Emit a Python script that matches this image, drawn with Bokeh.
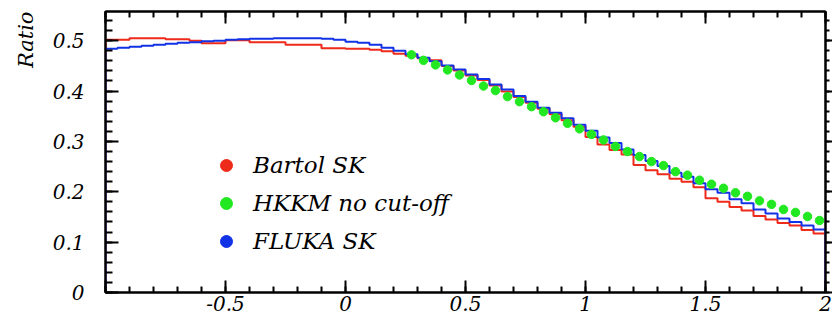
import numpy as np
from bokeh.plotting import figure
from bokeh.models import (ColumnDataSource, FixedTicker, LinearAxis, Range1d,
                          Legend, LegendItem, Title)
from bokeh.embed import file_html
from bokeh.resources import INLINE

# ---- histogram binning (60 bins of 0.05 from -1 to 2) ----
BIN_WIDTH = 0.05
X_LO, X_HI = -1.0, 2.0

# Bartol SK ratio per bin
bartol_sk = [
    0.502, 0.502, 0.505, 0.505, 0.505, 0.503, 0.503, 0.500, 0.495, 0.495,
    0.501, 0.501, 0.497, 0.497, 0.497, 0.492, 0.492, 0.492, 0.485, 0.485,
    0.484, 0.484, 0.482, 0.479, 0.474, 0.470, 0.465, 0.461, 0.450, 0.441,
    0.431, 0.422, 0.411, 0.399, 0.388, 0.377, 0.365, 0.354, 0.342, 0.329,
    0.309, 0.294, 0.283, 0.274, 0.253, 0.243, 0.235, 0.226, 0.220, 0.209,
    0.187, 0.180, 0.170, 0.163, 0.152, 0.145, 0.138, 0.133, 0.124, 0.117,
]

# FLUKA SK ratio per bin
fluka_sk = [
    0.484, 0.486, 0.488, 0.490, 0.492, 0.494, 0.496, 0.497, 0.499, 0.500,
    0.502, 0.503, 0.504, 0.504, 0.505, 0.505, 0.505, 0.505, 0.504, 0.502,
    0.498, 0.496, 0.492, 0.486, 0.480, 0.473, 0.466, 0.459, 0.451, 0.443,
    0.433, 0.424, 0.413, 0.403, 0.390, 0.379, 0.367, 0.357, 0.346, 0.333,
    0.321, 0.308, 0.297, 0.284, 0.273, 0.261, 0.251, 0.238, 0.230, 0.217,
    0.205, 0.198, 0.185, 0.177, 0.165, 0.157, 0.147, 0.140, 0.133, 0.125,
]

# HKKM (no geomagnetic cut-off) points at bin centres from 0.275 upwards
hkkm_first_center = 0.275
hkkm_no_cutoff = [
    0.472, 0.461, 0.452, 0.442, 0.432, 0.421, 0.410, 0.401, 0.389, 0.379,
    0.369, 0.359, 0.347, 0.336, 0.325, 0.314, 0.303, 0.290, 0.280, 0.270,
    0.260, 0.252, 0.240, 0.233, 0.223, 0.215, 0.207, 0.198, 0.191, 0.182,
    0.175, 0.165, 0.159, 0.151, 0.143,
]

x_ticks = [-1.0, -0.5, 0.0, 0.5, 1.0, 1.5, 2.0]
x_tick_labels = ["", "-0.5", "0", "0.5", "1", "1.5", "2"]
y_ticks = [0.0, 0.1, 0.2, 0.3, 0.4, 0.5]
y_tick_labels = ["0", "0.1", "0.2", "0.3", "0.4", "0.5"]

RED = "#ee2a1a"
GREEN = "#22e822"
BLUE = "#1232e6"
FONT = "DejaVu Serif"


def staircase(values):
    """Outline of a ROOT-style histogram, dropping to zero at both ends."""
    v = np.asarray(values, dtype=float)
    edges = X_LO + BIN_WIDTH * np.arange(len(v) + 1)
    xs = np.repeat(edges, 2)
    ys = np.concatenate([[0.0], np.repeat(v, 2), [0.0]])
    return xs, ys


p = figure(width=832, height=320, output_backend="svg", toolbar_location=None,
           x_range=Range1d(X_LO, X_HI), y_range=Range1d(0, 0.558),
           min_border_left=105, min_border_right=7,
           min_border_top=11, min_border_bottom=28)
p.xgrid.visible = False
p.ygrid.visible = False
p.outline_line_color = "black"
p.outline_line_width = 2
p.background_fill_color = "white"
p.border_fill_color = "white"

# ---- histograms ----
bx, by = staircase(bartol_sk)
p.line(bx, by, line_color=RED, line_width=2)
fx, fy = staircase(fluka_sk)
p.line(fx, fy, line_color=BLUE, line_width=2)

hkkm_x = hkkm_first_center + BIN_WIDTH * np.arange(len(hkkm_no_cutoff))
src_h = ColumnDataSource(dict(x=hkkm_x, y=hkkm_no_cutoff))
r_hkkm = p.scatter("x", "y", source=src_h, marker="circle", size=8.5,
                   fill_color=GREEN, line_color=GREEN)

# ---- axes (ticks drawn inside the frame) ----
x_minor = list(np.round(np.arange(X_LO, X_HI + 1e-9, 0.1), 2))
y_minor = list(np.round(np.arange(0, 0.56, 0.02), 2))


def style(ax, major, minor, labels, show_labels, tin, tout, mtin, mtout):
    ax.ticker = FixedTicker(ticks=major, minor_ticks=minor)
    ax.major_label_overrides = {t: l for t, l in zip(major, labels)}
    ax.axis_line_color = "black"
    ax.axis_line_width = 2
    ax.major_tick_line_color = "black"
    ax.minor_tick_line_color = "black"
    ax.major_tick_line_width = 2
    ax.minor_tick_line_width = 2
    ax.major_tick_in = tin
    ax.major_tick_out = tout
    ax.minor_tick_in = mtin
    ax.minor_tick_out = mtout
    ax.major_label_text_font = FONT
    ax.major_label_text_font_style = "italic"
    if show_labels:
        ax.major_label_text_color = "black"
        ax.major_label_text_font_size = "20px"
    else:
        # tick marks only, no numbers on this side
        ax.major_label_text_color = None
        ax.major_label_text_font_size = "1px"
        ax.major_label_standoff = 0


xb = p.xaxis[0]
style(xb, x_ticks, x_minor, x_tick_labels, True, 12, 0, 6, 0)
xb.major_label_standoff = 3

yl = p.yaxis[0]
style(yl, y_ticks, y_minor, y_tick_labels, True, 13, 0, 7, 0)
yl.major_label_standoff = 21

xt = LinearAxis()
style(xt, x_ticks, x_minor, x_tick_labels, False, 12, 0, 6, 0)
p.add_layout(xt, "above")

yr = LinearAxis()
style(yr, y_ticks, y_minor, y_tick_labels, False, 0, 7, 0, 4)
p.add_layout(yr, "right")

# ---- y title, placed at the top end of the vertical axis ----
p.add_layout(Title(text="Ratio", align="right", vertical_align="top",
                   text_font=FONT, text_font_style="italic",
                   text_font_size="21px", text_color="black",
                   standoff=20, offset=0), "left")

# ---- legend with round markers ----
nan_src = dict(x=[np.nan], y=[np.nan])
r_leg_b = p.scatter("x", "y", source=ColumnDataSource(nan_src), marker="circle",
                    fill_color=RED, line_color=RED)
r_leg_f = p.scatter("x", "y", source=ColumnDataSource(dict(nan_src)),
                    marker="circle", fill_color=BLUE, line_color=BLUE)
legend = Legend(items=[LegendItem(label="Bartol SK", renderers=[r_leg_b]),
                       LegendItem(label="HKKM no cut-off", renderers=[r_hkkm]),
                       LegendItem(label="FLUKA SK", renderers=[r_leg_f])],
                location=(106, 36), glyph_width=30, glyph_height=30,
                spacing=8, padding=10, margin=0, label_standoff=12,
                label_text_font=FONT, label_text_font_style="italic",
                label_text_font_size="23px", label_text_color="black",
                border_line_color=None, background_fill_alpha=0)
p.add_layout(legend)

open("out.html", "w").write(file_html(p, INLINE))
